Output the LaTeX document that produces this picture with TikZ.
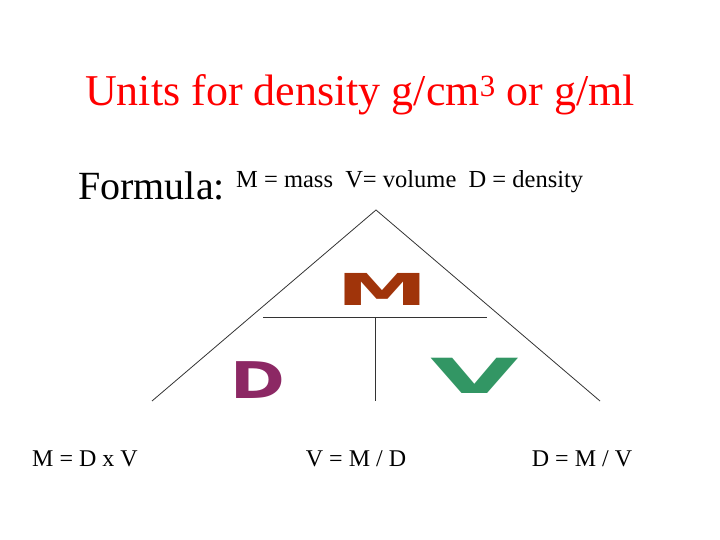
\documentclass[tikz,border=0pt]{standalone}
\usepackage{fontspec}
\setmainfont{Liberation Serif}
\newfontfamily\lsans{DejaVu Sans}
\definecolor{mbrown}{RGB}{160,52,10}
\definecolor{dpurple}{RGB}{140,40,100}
\definecolor{vgreen}{RGB}{50,150,100}
\begin{document}
\begin{tikzpicture}[x=1pt,y=-1pt,
  big/.style={font=\lsans\bfseries\fontsize{44}{44}\selectfont, inner sep=0pt},
  line/.style={draw=black!80, line width=0.8pt}]
\useasboundingbox (0,0) rectangle (720,540);
\node[text=red, font=\fontsize{44}{46}\selectfont] (title) at (360,95) {Units for density g/cm\textsuperscript{3} or g/ml};
\node[anchor=west, font=\fontsize{40}{42}\selectfont, inner sep=0pt] (formula) at (78,186) {Formula:};
\node[anchor=west, font=\fontsize{24.5}{26}\selectfont, inner sep=0pt] (legend) at (236,182) {M = mass\ \ V= volume\ \ D = density};
\coordinate (apex) at (376,210);
\coordinate (bl) at (152,401);
\coordinate (br) at (600,401);
\coordinate (hl) at (263,317);
\coordinate (hr) at (487,317);
\coordinate (vt) at (375,317);
\coordinate (vb) at (375,401);
\draw[line] (bl) -- (apex) -- (br);
\draw[line] (hl) -- (hr);
\draw[line] (vt) -- (vb);
\node[big, text=mbrown, xscale=2.1, yscale=1.0] (M) at (382,289) {M};
\node[big, text=dpurple, xscale=1.5, yscale=1.15] (D) at (258,380) {D};
\node[big, text=vgreen, xscale=2.6, yscale=1.1] (V) at (475,376) {V};
\node[font=\fontsize{24}{26}\selectfont] (f1) at (85,459) {M = D x V};
\node[font=\fontsize{24}{26}\selectfont] (f2) at (356,459) {V = M / D};
\node[font=\fontsize{24}{26}\selectfont] (f3) at (582,459) {D = M / V};
\end{tikzpicture}
\end{document}
